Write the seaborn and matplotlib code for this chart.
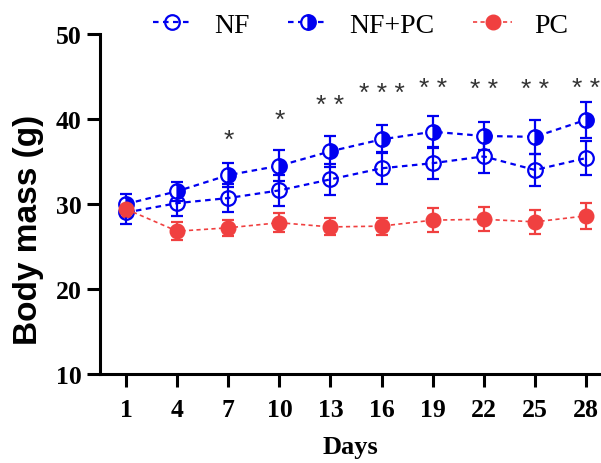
import matplotlib
matplotlib.use("Agg")
import matplotlib.pyplot as plt
import numpy as np
import pandas as pd
import seaborn as sns

sns.set_theme(style="ticks", rc={"text.color": "black", "axes.labelcolor": "black",
                                 "xtick.color": "black", "ytick.color": "black"})

days = [1, 4, 7, 10, 13, 16, 19, 22, 25, 28]
nf_mean = [29.0, 30.1, 30.7, 31.6, 32.9, 34.2, 34.8, 35.6, 34.0, 35.4]
nf_sem = [1.3, 1.5, 1.6, 1.8, 1.8, 1.9, 1.9, 2.0, 1.9, 2.0]
nfpc_mean = [30.0, 31.5, 33.4, 34.5, 36.2, 37.6, 38.5, 38.0, 37.9, 39.9]
nfpc_sem = [1.2, 1.1, 1.4, 1.8, 1.8, 1.65, 1.9, 1.65, 2.0, 2.1]
pc_mean = [29.4, 26.8, 27.2, 27.8, 27.3, 27.4, 28.1, 28.2, 27.9, 28.6]
pc_sem = [0.9, 1.05, 0.95, 1.1, 1.0, 1.0, 1.4, 1.4, 1.45, 1.5]

star_days = [7, 10, 13, 16, 19, 22, 25, 28]
star_text = ["*", "*", "**", "***", "**", "**", "**", "**"]
star_y = [37.6, 39.9, 41.7, 43.0, 43.6, 43.5, 43.5, 43.6]

blue = "#0000F0"
red = "#F04040"

df = pd.DataFrame({"Days": days * 3,
                   "mass": nf_mean + nfpc_mean + pc_mean,
                   "sem": nf_sem + nfpc_sem + pc_sem,
                   "group": ["NF"] * 10 + ["NF+PC"] * 10 + ["PC"] * 10})

fig = plt.figure(figsize=(6.01, 4.64), dpi=100)
ax = fig.add_axes([0.1664, 0.1918, 0.8336, 0.7328])

styles = {
    "NF": dict(color=blue, marker="o", markerfacecolor="none", markeredgecolor=blue,
               markeredgewidth=1.6, linestyle=(0, (2.5, 2)), linewidth=1.6),
    "NF+PC": dict(color=blue, marker="o", fillstyle="right", markerfacecolor=blue,
                  markerfacecoloralt="white", markeredgecolor=blue,
                  markeredgewidth=1.6, linestyle=(0, (2.5, 2)), linewidth=1.6),
    "PC": dict(color=red, marker="o", markerfacecolor=red, markeredgecolor=red,
               markeredgewidth=1.0, linestyle=(0, (2.5, 2)), linewidth=1.2),
}

for g in ["PC", "NF", "NF+PC"]:
    sub = df[df["group"] == g]
    ax.errorbar(sub["Days"], sub["mass"], yerr=sub["sem"], fmt="none",
                ecolor=styles[g]["color"], elinewidth=1.6, capsize=4.3,
                capthick=1.6, zorder=2)

for g in ["NF", "NF+PC", "PC"]:
    sub = df[df["group"] == g]
    sns.lineplot(data=sub, x="Days", y="mass", ax=ax, label=g, markersize=10.5,
                 zorder=3, **styles[g])

for d, t, y in zip(star_days, star_text, star_y):
    ax.text(d, y, " ".join(t), ha="center", va="center", fontsize=19,
            family="Liberation Sans", color="#333333")

ax.set_xlim(-0.53, 28.88)
ax.set_ylim(10, 50)
ax.set_xticks(days)
ax.set_yticks([10, 20, 30, 40, 50])
for lab in ax.get_xticklabels() + ax.get_yticklabels():
    lab.set_family("Liberation Serif")
    lab.set_fontweight("bold")
    lab.set_fontsize(18.5)
    lab.set_color("black")
ax.tick_params(width=2.2, length=9.5, color="black")
ax.tick_params(axis="x", pad=8)
ax.tick_params(axis="y", pad=4)

sns.despine(ax=ax)
for s in ["left", "bottom"]:
    ax.spines[s].set_linewidth(2.2)
    ax.spines[s].set_color("black")

ax.set_xlabel("Days", family="Liberation Serif", fontweight="bold", fontsize=19,
              labelpad=10, color="black")
ax.set_ylabel("Body mass (g)", family="Liberation Sans", fontweight="bold", fontsize=24,
              color="black")
ax.yaxis.label.set_va("center")
ax.yaxis.set_label_coords(-0.142, 0.426)

leg = ax.legend(loc="center", bbox_to_anchor=(0.52, 1.027), ncol=3, frameon=False,
                prop={"family": "Liberation Serif", "size": 20}, handlelength=1.4,
                handletextpad=0.8, columnspacing=1.4, borderaxespad=0)
for t in leg.get_texts():
    t.set_color("black")

fig.savefig("out.png", dpi=100)
